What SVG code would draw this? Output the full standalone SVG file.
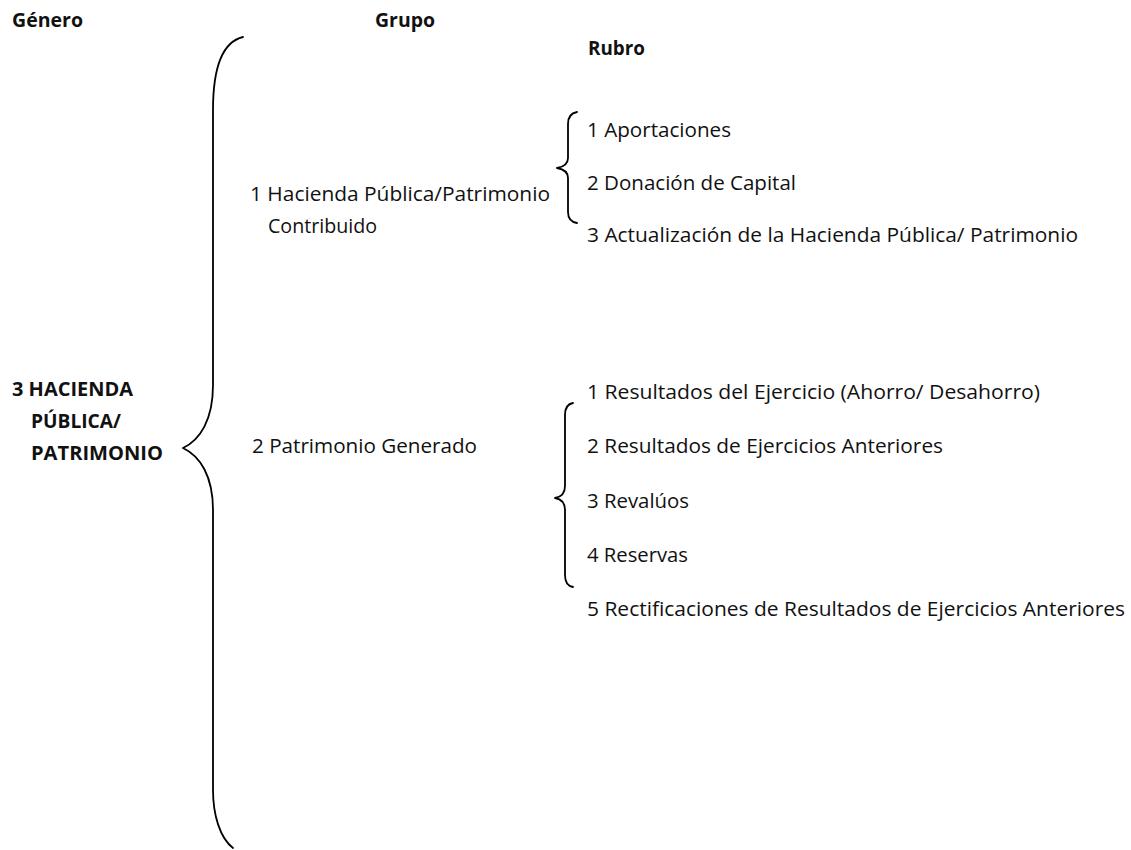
<svg xmlns="http://www.w3.org/2000/svg" width="1131" height="850" viewBox="0 0 1131 850">
<style>
text{font-family:"Open Sans","Noto Sans","Liberation Sans",sans-serif;font-size:20px;fill:#111;}
.b{font-weight:bold;}
.brace{fill:none;stroke:#000;stroke-width:1.8;stroke-linecap:round;stroke-linejoin:round;}
</style>
<rect width="1131" height="850" fill="#fff"/>
<g id="headers">
<text class="b" x="12" y="27" textLength="71" lengthAdjust="spacingAndGlyphs">Género</text>
<text class="b" x="375" y="27" textLength="60" lengthAdjust="spacingAndGlyphs">Grupo</text>
<text class="b" x="588" y="55" textLength="57" lengthAdjust="spacingAndGlyphs">Rubro</text>
</g>
<g id="genero">
<text class="b" x="12" y="396" textLength="121" lengthAdjust="spacingAndGlyphs">3 HACIENDA</text>
<text class="b" x="31" y="428" textLength="90" lengthAdjust="spacingAndGlyphs">PÚBLICA/</text>
<text class="b" x="31" y="460" textLength="132" lengthAdjust="spacingAndGlyphs">PATRIMONIO</text>
</g>
<g id="grupo1">
<text x="250" y="201" textLength="300" lengthAdjust="spacingAndGlyphs">1 Hacienda Pública/Patrimonio</text>
<text x="268" y="233" textLength="109" lengthAdjust="spacingAndGlyphs">Contribuido</text>
</g>
<g id="grupo2">
<text x="252" y="453" textLength="225" lengthAdjust="spacingAndGlyphs">2 Patrimonio Generado</text>
</g>
<g id="rubros1">
<text x="587" y="137" textLength="144" lengthAdjust="spacingAndGlyphs">1 Aportaciones</text>
<text x="587" y="190" textLength="209" lengthAdjust="spacingAndGlyphs">2 Donación de Capital</text>
<text x="587" y="242" textLength="491" lengthAdjust="spacingAndGlyphs">3 Actualización de la Hacienda Pública/ Patrimonio</text>
</g>
<g id="rubros2">
<text x="587" y="399" textLength="453" lengthAdjust="spacingAndGlyphs">1 Resultados del Ejercicio (Ahorro/ Desahorro)</text>
<text x="587" y="453" textLength="356" lengthAdjust="spacingAndGlyphs">2 Resultados de Ejercicios Anteriores</text>
<text x="587" y="508" textLength="102" lengthAdjust="spacingAndGlyphs">3 Revalúos</text>
<text x="587" y="562" textLength="101" lengthAdjust="spacingAndGlyphs">4 Reservas</text>
<text x="587" y="616" textLength="538" lengthAdjust="spacingAndGlyphs">5 Rectificaciones de Resultados de Ejercicios Anteriores</text>
</g>
<g id="connectors">
<path class="brace" d="M243,37 C222,42 213,70 213,110 L213,385 C213,420 200,440 183,448 C200,456 213,476 213,510 L213,790 C213,815 220,838 233,848"/>
<path class="brace" d="M577,112 C571,113 568,117 568,124 L568,158 C568,164 563,167 557,168 C563,169 568,172 568,178 L568,212 C568,219 571,222 577,223"/>
<path class="brace" d="M573,403 C567,404 565,408 565,415 L565,486 C565,493 561,497 555,498 C561,499 565,503 565,510 L565,575 C565,582 567,586 573,587"/>
</g>
</svg>
